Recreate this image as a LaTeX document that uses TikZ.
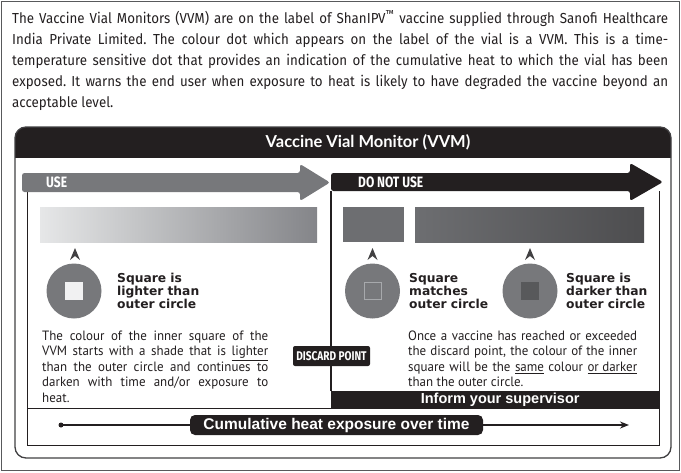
\documentclass[tikz,border=0pt]{standalone}
\usepackage{fontspec}
\setmainfont{PT Sans}
\newfontfamily\topfont[FakeStretch=0.92]{Fira Sans}
\newfontfamily\bodyfont[FakeStretch=0.96]{PT Sans}
\newfontfamily\condbold[FakeStretch=0.8]{Fira Sans}
\newfontfamily\titlefont{Lato}
\newfontfamily\labelfont{DejaVu Sans}
\newfontfamily\barfont{Liberation Sans}
\usetikzlibrary{arrows.meta}
\definecolor{vblack}{HTML}{231F20}
\definecolor{vgray}{HTML}{77787B}
\definecolor{vgrayd}{HTML}{6D6E71}
\definecolor{vgraydd}{HTML}{58595B}
\definecolor{vlight}{HTML}{E6E7E8}
\definecolor{vwhite}{HTML}{F1F1F2}
\definecolor{vmid}{HTML}{848589}
\definecolor{vdark}{HTML}{4D4D4F}
\definecolor{vframe}{HTML}{414042}
\definecolor{vsq}{HTML}{A7A9AC}
\frenchspacing
\begin{document}
\begin{tikzpicture}[x=1pt,y=-1pt,
  para/.style={anchor=base west, inner sep=0, align=justify, text=vblack},
  sqlabel/.style={anchor=base west, inner sep=0, text width=110pt, align=left,
    font=\labelfont\bfseries\fontsize{12.3}{13}\selectfont, text=vblack},
  dial/.style={circle, fill=vgray, minimum size=55pt, inner sep=0},
  insq/.style={minimum size=18pt, inner sep=0},
  bandtext/.style={anchor=west, inner sep=0, text=white,
    font=\condbold\bfseries\fontsize{15}{15}\selectfont},
  vvmdart/.pic={\fill[vframe] (0,0) -- (5,12) -- (0,8) -- (-5,12) -- cycle;},
  blackpill/.style={fill=vblack, text=white, inner sep=0}]
\useasboundingbox (0,0) rectangle (681,472);
% outer frame
\draw[vgraydd, line width=1pt] (1.5,1.5) rectangle (679.5,470.5);
% intro text
\node[para, text width=656pt, font=\topfont\fontsize{14.5}{21}\selectfont] (intro) at (12,23)
 {The Vaccine Vial Monitors (VVM) are on the label of ShanIPV\textsuperscript{™} vaccine supplied through Sanofi Healthcare\linebreak
  India Private Limited. The colour dot which appears on the label of the vial is a VVM. This is a time-\linebreak
  temperature sensitive dot that provides an indication of the cumulative heat to which the vial has been\linebreak
  exposed. It warns the end user when exposure to heat is likely to have degraded the vaccine beyond an\linebreak
  acceptable level.};
% panel header
\begin{scope}
  \clip (10,120) rectangle (676,157);
  \fill[vblack, rounded corners=11pt] (15,127) rectangle (671,190);
\end{scope}
\draw[vframe, line width=1.3pt, rounded corners=11pt] (15,127) rectangle (671,458);
\node[text=white, inner sep=0, font=\titlefont\bfseries\fontsize{16.5}{16.5}\selectfont] (title) at (368,142) {Vaccine Vial Monitor (VVM)};
% inner box
\draw[vblack, line width=0.8pt] (27,192) -- (27,445) -- (659,445) -- (659,191);
\draw[vblack, line width=0.8pt] (27,408) -- (659,408);
% USE arrow
\fill[vgray, rounded corners=2.5pt] (22,173) -- (300,173) -- (300,164) -- (330,182.5) -- (300,201) -- (300,192) -- (22,192) -- cycle;
\node[bandtext] (use) at (46,182.5) {USE};
% DO NOT USE arrow
\fill[vblack, rounded corners=2.5pt] (331,173) -- (630,173) -- (630,163) -- (663,182) -- (630,201) -- (630,191) -- (331,191) -- cycle;
\node[bandtext] (donot) at (358,182) {DO NOT USE};
% bars
\shade[left color=vlight, right color=vmid] (40,207) rectangle (317,242);
\fill[vgrayd] (343,207) rectangle (404,242);
\shade[left color=vgrayd, right color=vdark] (415,207) rectangle (644,242);
% darts
\pic at (75,248) {vvmdart};
\pic at (372.5,248) {vvmdart};
\pic at (530,248) {vvmdart};
% dials
\node[dial] (c1) at (74,291) {};
\node[insq, fill=vwhite] (s1) at (c1) {};
\node[dial] (c2) at (372.5,291) {};
\node[insq, fill=vgray, draw=vsq, line width=1pt, minimum size=17pt] (s2) at (c2) {};
\node[dial] (c3) at (530,291) {};
\node[insq, fill=vgraydd] (s3) at (c3) {};
% labels
\node[sqlabel] (l1) at (117,282.5) {Square is\\lighter than\\outer circle};
\node[sqlabel] (l2) at (409,282.5) {Square\\matches\\outer circle};
\node[sqlabel] (l3) at (566,282.5) {Square is\\darker than\\outer circle};
% paragraphs
\node[para, text width=226pt, font=\bodyfont\fontsize{13.5}{15.6}\selectfont] (usetext) at (42,340)
 {The colour of the inner square of the\linebreak
  VVM starts with a shade that is \underline{lighter}\linebreak
  than the outer circle and continues to\linebreak
  darken with time and/or exposure to\linebreak
  heat.};
\node[para, text width=229pt, font=\bodyfont\fontsize{13.5}{15.6}\selectfont] (dontext) at (408,340)
 {Once a vaccine has reached or exceeded\linebreak
  the discard point, the colour of the inner\linebreak
  square will be the \underline{same} colour \underline{or darker}\linebreak
  than the outer circle.};
% inform bar
\node[blackpill, anchor=north west, minimum width=328pt, minimum height=17pt,
  font=\barfont\bfseries\fontsize{14.5}{14.5}\selectfont] (inform) at (331,391) {\hspace*{10pt}Inform your supervisor};
% discard line and label
\coordinate (dtop) at (331,191);
\draw[vblack, line width=1.5pt] (dtop) -- (inform.north west);
\node[blackpill, rounded corners=2pt, minimum width=77pt, minimum height=20pt,
  font=\condbold\bfseries\fontsize{12.6}{12.6}\selectfont] (discard) at (331.5,356) {DISCARD POINT};
% timeline
\coordinate (t0) at (61,425);
\coordinate (t1) at (629,425);
\draw[vblack, line width=1.5pt, -{Stealth[length=9pt,width=7pt]}] (t0) -- (t1);
\fill[vblack] (t0) circle (2.5pt);
\node[blackpill, rounded corners=5pt, minimum width=293pt, minimum height=20pt,
  font=\barfont\bfseries\fontsize{15.5}{15.5}\selectfont] (pill) at (336.5,425) {Cumulative heat exposure over time};
\end{tikzpicture}
\end{document}
